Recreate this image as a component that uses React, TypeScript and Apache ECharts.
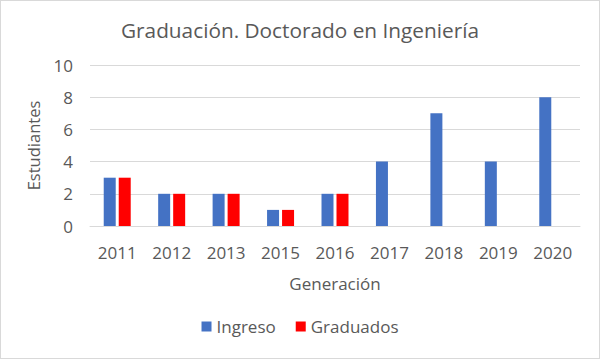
import React, { useEffect, useRef } from "react";
import * as echarts from "echarts";

const categories = ["2011", "2012", "2013", "2015", "2016", "2017", "2018", "2019", "2020"];
const ingreso = [3, 2, 2, 1, 2, 4, 7, 4, 8];
const graduados = [3, 2, 2, 1, 2, 0, 0, 0, 0];

const FONT = "Open Sans";
const TXT = "#595959";

export default function App() {
  const ref = useRef<HTMLDivElement>(null);
  useEffect(() => {
    document.body.style.margin = "0";
    const chart = echarts.init(ref.current!, null, { renderer: "svg" });
    chart.setOption({
      animation: false,
      backgroundColor: "#ffffff",
      title: {
        text: "Graduación. Doctorado en Ingeniería",
        left: "center",
        top: 13,
        textStyle: { fontFamily: FONT, fontSize: 20.8, fontWeight: "normal", color: TXT },
      },
      grid: { left: 89, right: 19, top: 64, bottom: 132 },
      legend: {
        bottom: 18,
        left: "center",
        itemWidth: 10,
        itemHeight: 10,
        itemGap: 20,
        icon: "rect",
        textStyle: { fontFamily: FONT, fontSize: 17, color: TXT },
        data: ["Ingreso", "Graduados"],
      },
      xAxis: {
        type: "category",
        data: categories,
        name: "Generación",
        nameLocation: "middle",
        nameGap: 49,
        nameTextStyle: { fontFamily: FONT, fontSize: 17, color: TXT },
        axisLine: { show: true, lineStyle: { color: "#d9d9d9" } },
        axisTick: { show: false },
        axisLabel: { fontFamily: FONT, fontSize: 17, color: TXT, margin: 18 },
      },
      yAxis: {
        type: "value",
        min: 0,
        max: 10,
        interval: 2,
        name: "Estudiantes",
        nameLocation: "middle",
        nameGap: 48,
        nameTextStyle: { fontFamily: FONT, fontSize: 16.5, color: TXT },
        axisLine: { show: false },
        axisTick: { show: false },
        splitLine: { lineStyle: { color: "#d9d9d9" } },
        axisLabel: { fontFamily: FONT, fontSize: 17, color: TXT, margin: 17 },
      },
      series: [
        {
          name: "Ingreso",
          type: "bar",
          data: ingreso,
          barWidth: 12,
          barGap: "25%",
          itemStyle: { color: "#4472C4" },
        },
        {
          name: "Graduados",
          type: "bar",
          data: graduados,
          barWidth: 12,
          itemStyle: { color: "#FF0000" },
        },
      ],
    });
    return () => chart.dispose();
  }, []);
  return (
    <div
      ref={ref}
      style={{ width: 600, height: 359, boxSizing: "border-box", border: "1px solid #d9d9d9" }}
    />
  );
}
